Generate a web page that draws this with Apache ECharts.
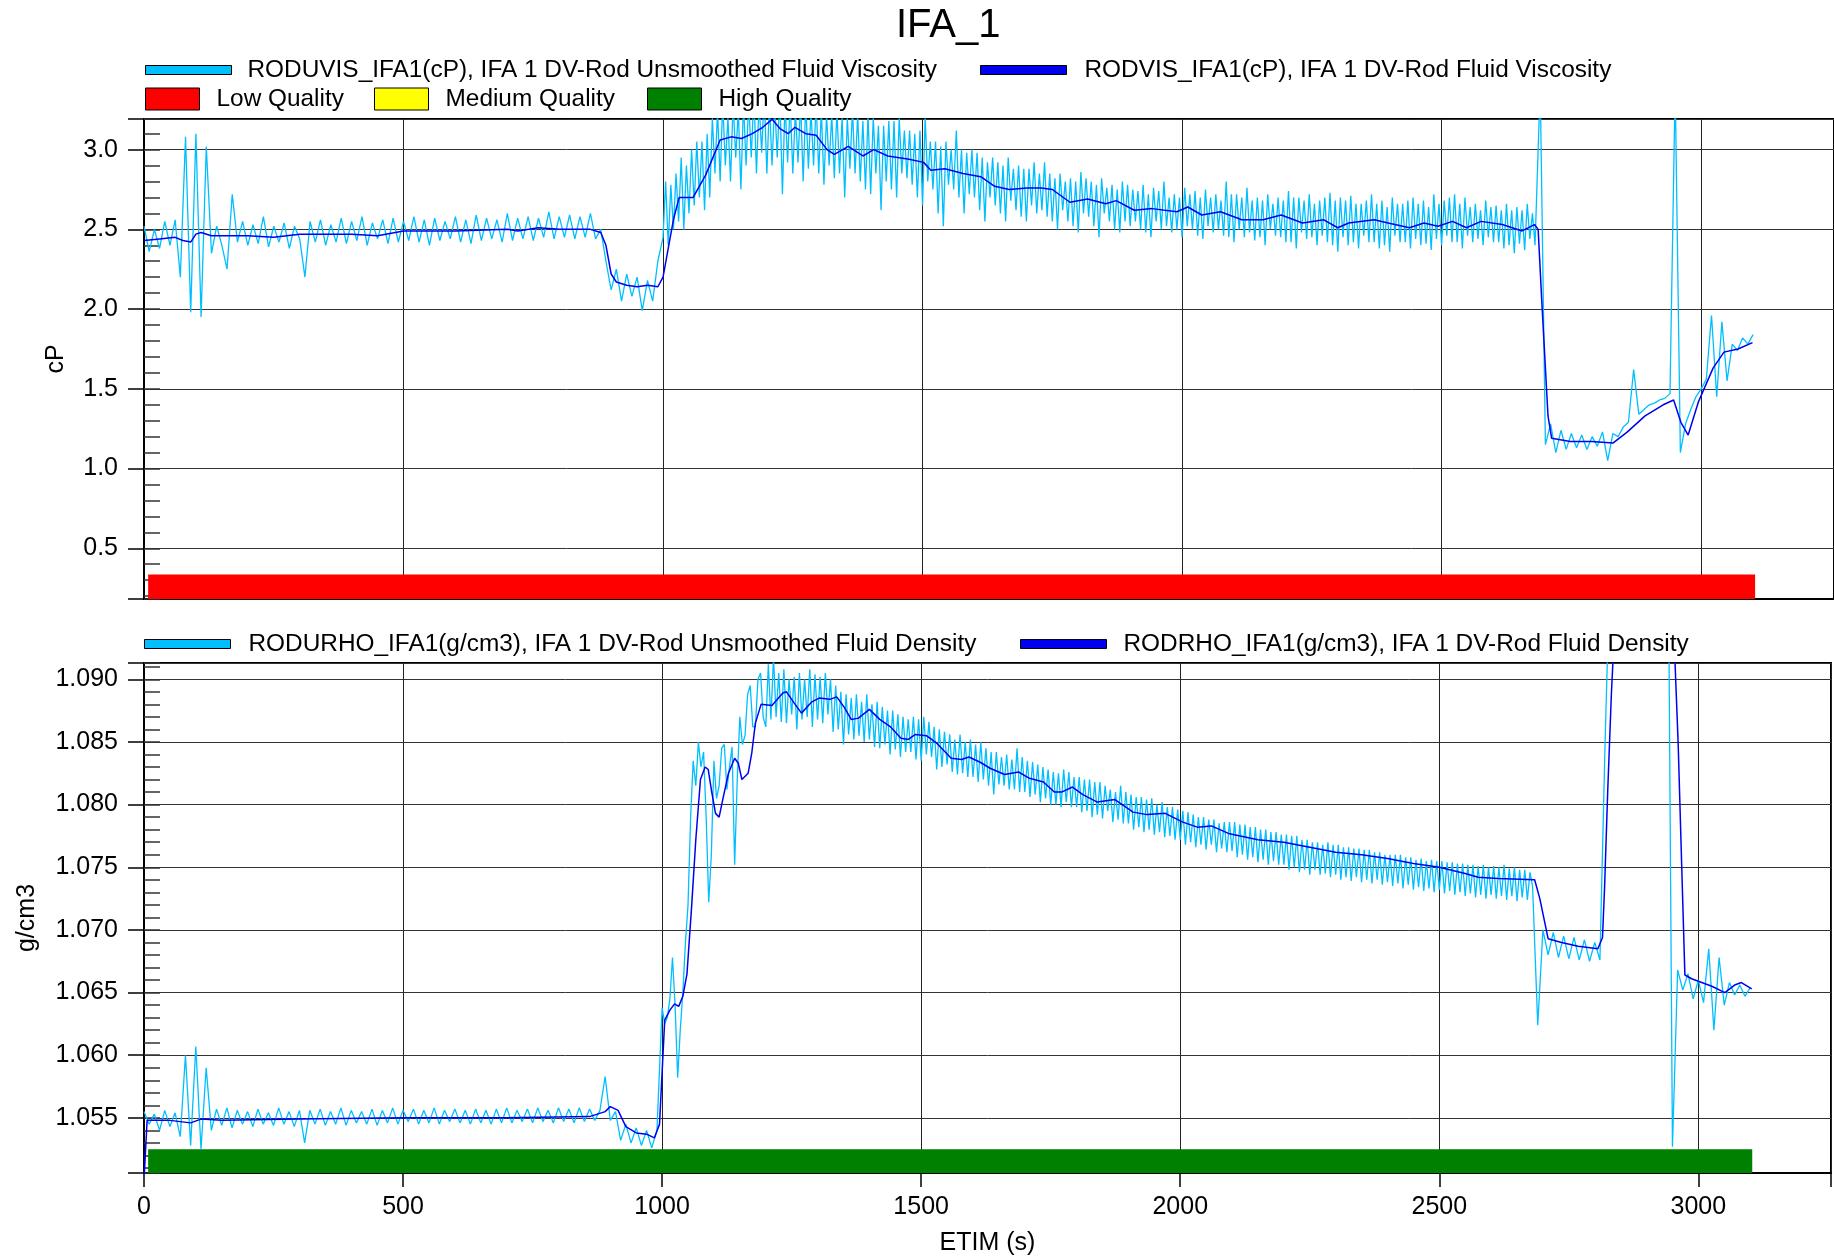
<!DOCTYPE html>
<html><head><meta charset="utf-8">
<script src="https://cdn.jsdelivr.net/npm/echarts@6/dist/echarts.min.js"></script>
<style>html,body{margin:0;padding:0;background:#fff}#c{width:1834px;height:1258px}</style>
</head><body><div id="c"></div>
<script>
// ---------------- DATA ----------------
const chartTitle = 'IFA_1';
const nameRawVisc = 'RODUVIS_IFA1(cP), IFA 1 DV-Rod Unsmoothed Fluid Viscosity';
const nameSmoothVisc = 'RODVIS_IFA1(cP), IFA 1 DV-Rod Fluid Viscosity';
const nameRawDens = 'RODURHO_IFA1(g/cm3), IFA 1 DV-Rod Unsmoothed Fluid Density';
const nameSmoothDens = 'RODRHO_IFA1(g/cm3), IFA 1 DV-Rod Fluid Density';
const qualityNames = ['Low Quality', 'Medium Quality', 'High Quality'];
const xAxisName = 'ETIM (s)';
const viscAxisName = 'cP';
const densAxisName = 'g/cm3';

const xRange = [0, 3256];
const xStep = 500;
const viscRange = [0.182, 3.192];
const viscStep = 0.5, viscMinor = 0.1;
const densRange = [1.0506, 1.0913];
const densStep = 0.005, densMinor = 0.001;

// quality band spans (time from..to, value bottom..top)
const viscQualitySpan = [8, 3104, 0.182, 0.336];   // Low Quality
const densQualitySpan = [8, 3104, 1.0506, 1.0525]; // High Quality

// raw viscosity: t 0..990 every 10 s, t 1000..2680 every 5 s, t 2690..3100 every 10 s
const rawViscEarly = [
2.52,2.36,2.50,2.38,2.55,2.40,2.56,2.20,3.08,1.98,
3.10,1.95,3.02,2.35,2.52,2.40,2.25,2.72,2.42,2.55,
2.40,2.53,2.41,2.58,2.39,2.52,2.42,2.54,2.38,2.52,
2.44,2.20,2.55,2.42,2.56,2.40,2.53,2.42,2.57,2.41,
2.55,2.43,2.58,2.40,2.54,2.44,2.56,2.41,2.57,2.42,
2.55,2.43,2.58,2.42,2.56,2.40,2.57,2.43,2.55,2.44,
2.58,2.42,2.56,2.41,2.59,2.43,2.57,2.44,2.56,2.42,
2.60,2.43,2.57,2.44,2.58,2.43,2.57,2.45,2.61,2.44,
2.58,2.45,2.59,2.44,2.58,2.45,2.60,2.44,2.50,2.30,
2.12,2.25,2.05,2.22,2.08,2.20,1.99,2.18,2.05,2.30
];
const rawViscMid = [
2.45,2.80,2.40,2.78,2.50,2.85,2.55,2.95,2.50,2.90,2.60,3.00,2.65,3.05,2.70,3.05,2.62,3.10,2.70,3.20,
2.85,3.25,2.80,3.30,2.90,3.20,2.80,3.30,2.95,3.25,2.75,3.30,2.90,3.30,2.95,3.35,2.85,3.30,2.98,3.35,
2.85,3.30,2.90,3.30,2.95,3.35,2.72,3.30,2.92,3.30,2.85,3.25,2.92,3.30,2.80,3.30,2.88,3.25,2.90,3.30,
2.85,3.25,2.78,3.22,2.90,3.22,2.82,3.25,2.85,3.20,2.70,3.20,2.88,3.25,2.85,3.22,2.80,3.18,2.75,3.22,
2.72,3.20,2.85,3.15,2.62,3.15,2.80,3.18,2.75,3.18,2.70,3.20,2.85,3.12,2.82,3.12,2.78,3.10,2.70,3.12,
2.65,3.20,2.80,3.05,2.75,3.05,2.60,3.02,2.52,3.05,2.78,3.00,2.75,3.12,2.70,3.00,2.60,2.98,2.72,3.00,
2.70,2.98,2.62,2.95,2.55,2.92,2.70,2.95,2.65,2.92,2.60,2.90,2.55,2.95,2.68,2.88,2.62,2.90,2.58,2.88,
2.55,2.88,2.65,2.92,2.60,2.85,2.62,2.92,2.58,2.85,2.55,2.82,2.50,2.85,2.62,2.80,2.55,2.82,2.52,2.80,
2.48,2.86,2.60,2.82,2.58,2.80,2.52,2.78,2.45,2.82,2.60,2.76,2.55,2.78,2.50,2.75,2.48,2.80,2.55,2.78,
2.52,2.75,2.55,2.74,2.50,2.78,2.48,2.72,2.45,2.76,2.55,2.74,2.50,2.80,2.52,2.70,2.48,2.72,2.50,2.70,
2.45,2.76,2.52,2.72,2.50,2.74,2.46,2.70,2.44,2.75,2.52,2.70,2.48,2.72,2.50,2.68,2.46,2.80,2.45,2.72,
2.42,2.72,2.50,2.70,2.45,2.76,2.48,2.68,2.43,2.70,2.45,2.68,2.40,2.72,2.50,2.66,2.46,2.70,2.45,2.68,
2.42,2.74,2.42,2.70,2.38,2.70,2.48,2.68,2.44,2.72,2.45,2.66,2.40,2.68,2.46,2.70,2.42,2.73,2.40,2.68,
2.36,2.70,2.45,2.68,2.40,2.71,2.42,2.66,2.38,2.66,2.46,2.68,2.42,2.72,2.42,2.66,2.38,2.68,2.40,2.64,
2.36,2.70,2.46,2.66,2.42,2.66,2.42,2.68,2.38,2.70,2.44,2.66,2.40,2.68,2.41,2.64,2.37,2.72,2.44,2.66,
2.40,2.68,2.46,2.70,2.42,2.72,2.42,2.66,2.38,2.70,2.46,2.64,2.42,2.66,2.44,2.62,2.40,2.68,2.45,2.64,
2.42,2.65,2.42,2.62,2.38,2.66,2.40,2.62,2.35,2.64,2.41,2.62,2.37,2.66,2.44,2.60,2.40
];
const rawViscLate = [
3.40,
1.15,1.28,1.10,1.24,1.12,1.22,1.13,1.21,1.12,1.20,
1.14,1.23,1.05,1.22,1.20,1.26,1.29,1.62,1.34,1.37,
1.40,1.41,1.43,1.44,1.47,3.40,1.10,1.28,1.37,1.45,
1.50,1.56,1.96,1.45,1.92,1.55,1.78,1.74,1.82,1.78,
1.84
];

// raw density: same sampling as viscosity
const rawDensEarly = [
1.0555,1.0545,1.0553,1.0540,1.0556,1.0543,1.0554,1.0535,1.0600,1.0528,
1.0607,1.0525,1.0590,1.0540,1.0557,1.0544,1.0558,1.0542,1.0556,1.0545,
1.0555,1.0543,1.0557,1.0545,1.0554,1.0544,1.0558,1.0545,1.0555,1.0543,
1.0556,1.0530,1.0556,1.0545,1.0557,1.0544,1.0555,1.0545,1.0558,1.0544,
1.0556,1.0546,1.0555,1.0545,1.0557,1.0544,1.0556,1.0546,1.0558,1.0545,
1.0556,1.0547,1.0557,1.0545,1.0556,1.0546,1.0558,1.0545,1.0556,1.0547,
1.0557,1.0546,1.0556,1.0545,1.0557,1.0546,1.0556,1.0545,1.0557,1.0546,
1.0558,1.0546,1.0556,1.0547,1.0557,1.0546,1.0558,1.0547,1.0556,1.0546,
1.0558,1.0547,1.0557,1.0546,1.0558,1.0547,1.0557,1.0548,1.0556,1.0583,
1.0548,1.0555,1.0532,1.0545,1.0530,1.0542,1.0528,1.0540,1.0526,1.0540
];
const rawDensMid = [
1.0638,1.0625,1.0630,1.0645,1.0678,1.0640,1.0582,1.0620,1.0650,1.0690,1.0720,1.0790,1.0835,1.0815,1.0850,1.0830,1.0842,1.0790,1.0722,1.0760,
1.0835,1.0805,1.0815,1.0845,1.0848,1.0812,1.0830,1.0846,1.0752,1.0820,1.0870,1.0848,1.0855,1.0888,1.0895,1.0862,1.0862,1.0900,1.0905,1.0870,
1.0862,1.0912,1.0868,1.0918,1.0870,1.0905,1.0866,1.0908,1.0865,1.0900,1.0872,1.0902,1.0860,1.0905,1.0868,1.0900,1.0870,1.0908,1.0862,1.0904,
1.0868,1.0902,1.0865,1.0905,1.0872,1.0900,1.0858,1.0895,1.0860,1.0890,1.0848,1.0888,1.0856,1.0885,1.0852,1.0888,1.0855,1.0882,1.0850,1.0888,
1.0852,1.0880,1.0846,1.0882,1.0845,1.0878,1.0848,1.0875,1.0840,1.0875,1.0844,1.0872,1.0838,1.0870,1.0842,1.0868,1.0842,1.0870,1.0836,1.0868,
1.0835,1.0870,1.0840,1.0866,1.0838,1.0862,1.0828,1.0860,1.0830,1.0858,1.0832,1.0856,1.0826,1.0852,1.0824,1.0856,1.0825,1.0850,1.0822,1.0852,
1.0822,1.0848,1.0818,1.0850,1.0820,1.0845,1.0815,1.0842,1.0808,1.0842,1.0816,1.0838,1.0815,1.0840,1.0812,1.0836,1.0812,1.0845,1.0810,1.0838,
1.0810,1.0835,1.0806,1.0834,1.0808,1.0832,1.0802,1.0830,1.0805,1.0828,1.0800,1.0826,1.0800,1.0825,1.0798,1.0828,1.0802,1.0826,1.0798,1.0822,
1.0798,1.0822,1.0794,1.0820,1.0795,1.0820,1.0790,1.0818,1.0792,1.0818,1.0789,1.0815,1.0795,1.0812,1.0786,1.0810,1.0788,1.0815,1.0785,1.0810,
1.0785,1.0808,1.0780,1.0806,1.0782,1.0806,1.0778,1.0804,1.0780,1.0805,1.0776,1.0800,1.0778,1.0802,1.0774,1.0798,1.0775,1.0798,1.0772,1.0796,
1.0772,1.0795,1.0768,1.0794,1.0770,1.0792,1.0766,1.0790,1.0768,1.0790,1.0764,1.0788,1.0768,1.0788,1.0762,1.0785,1.0765,1.0786,1.0762,1.0786,
1.0763,1.0786,1.0758,1.0784,1.0760,1.0784,1.0756,1.0782,1.0758,1.0782,1.0754,1.0780,1.0756,1.0780,1.0752,1.0778,1.0755,1.0778,1.0752,1.0776,
1.0752,1.0776,1.0748,1.0775,1.0750,1.0775,1.0746,1.0772,1.0748,1.0772,1.0744,1.0770,1.0748,1.0770,1.0744,1.0768,1.0745,1.0770,1.0742,1.0768,
1.0744,1.0768,1.0740,1.0766,1.0742,1.0766,1.0739,1.0765,1.0742,1.0765,1.0738,1.0764,1.0740,1.0764,1.0737,1.0762,1.0740,1.0762,1.0736,1.0760,
1.0738,1.0760,1.0735,1.0760,1.0737,1.0760,1.0733,1.0758,1.0736,1.0758,1.0732,1.0756,1.0734,1.0757,1.0731,1.0755,1.0733,1.0756,1.0730,1.0755,
1.0732,1.0755,1.0729,1.0754,1.0731,1.0754,1.0728,1.0753,1.0730,1.0753,1.0727,1.0752,1.0729,1.0752,1.0726,1.0751,1.0728,1.0752,1.0725,1.0750,
1.0728,1.0751,1.0725,1.0750,1.0727,1.0752,1.0724,1.0749,1.0727,1.0750,1.0723,1.0748,1.0726,1.0748,1.0724,1.0746,1.0735
];
const rawDensLate = [
1.0624,
1.0700,1.0680,1.0698,1.0678,1.0695,1.0677,1.0694,1.0676,1.0692,1.0675,
1.0690,1.0676,1.0850,1.1000,1.1100,1.1150,1.1150,1.1150,1.1150,1.1150,
1.1150,1.1150,1.1150,1.1150,1.1120,1.0527,1.0668,1.0652,1.0665,1.0645,
1.0660,1.0642,1.0685,1.0620,1.0678,1.0640,1.0658,1.0648,1.0656,1.0647,
1.0654
];
const rawSegments = { early: [0, 10], mid: [1000, 5], late: [2690, 10] }; // [start time, step]

// smoothed signals as [time, value]
const smoothVisc = [
[0,2.43],[30,2.44],[60,2.45],[75,2.43],[90,2.42],[100,2.47],[110,2.48],[130,2.46],[200,2.46],[250,2.45],
[300,2.47],[400,2.47],[450,2.46],[500,2.49],[600,2.49],[700,2.50],[720,2.49],[760,2.51],[800,2.50],[860,2.50],
[880,2.48],[890,2.40],[900,2.22],[910,2.17],[930,2.15],[950,2.14],[970,2.15],[990,2.14],[1000,2.20],[1010,2.38],
[1020,2.56],[1031,2.70],[1058,2.70],[1082,2.84],[1110,3.06],[1131,3.08],[1151,3.07],[1172,3.10],[1192,3.14],[1210,3.19],
[1226,3.13],[1241,3.10],[1254,3.14],[1275,3.10],[1295,3.09],[1316,3.00],[1330,2.97],[1357,3.02],[1385,2.96],[1406,3.00],
[1433,2.96],[1474,2.94],[1502,2.92],[1516,2.87],[1543,2.88],[1578,2.85],[1612,2.83],[1639,2.77],[1667,2.75],[1701,2.76],
[1729,2.76],[1750,2.75],[1784,2.67],[1818,2.69],[1853,2.66],[1873,2.68],[1908,2.62],[1942,2.63],[1990,2.61],[2011,2.64],
[2038,2.59],[2074,2.61],[2115,2.56],[2156,2.56],[2191,2.59],[2232,2.54],[2273,2.56],[2300,2.51],[2321,2.54],[2370,2.56],
[2397,2.54],[2438,2.51],[2466,2.54],[2493,2.52],[2521,2.55],[2548,2.51],[2576,2.55],[2617,2.53],[2655,2.49],[2679,2.53],
[2686,2.50],[2693,2.05],[2698,1.75],[2705,1.33],[2712,1.19],[2748,1.17],[2789,1.17],[2830,1.16],[2858,1.23],[2892,1.33],
[2927,1.40],[2947,1.43],[2961,1.29],[2975,1.21],[2995,1.42],[3023,1.63],[3044,1.73],[3071,1.75],[3099,1.79]
];
const smoothDens = [
[0,1.0500],[6,1.0548],[50,1.0548],[90,1.0546],[110,1.0549],[150,1.0548],[300,1.0549],[500,1.0550],[700,1.0550],[860,1.0551],
[890,1.0555],[900,1.0559],[915,1.0556],[930,1.0543],[950,1.0538],[970,1.0537],[985,1.0534],[995,1.0545],[1005,1.0628],[1015,1.0636],
[1024,1.0641],[1032,1.0639],[1040,1.0647],[1048,1.0665],[1057,1.0719],[1065,1.0772],[1074,1.0820],[1083,1.0830],[1089,1.0828],[1095,1.0812],
[1103,1.0793],[1110,1.0790],[1117,1.0804],[1128,1.0825],[1140,1.0837],[1147,1.0833],[1154,1.0820],[1166,1.0825],[1173,1.0841],[1180,1.0865],
[1191,1.0880],[1212,1.0879],[1233,1.0889],[1240,1.0890],[1255,1.0881],[1269,1.0873],[1289,1.0882],[1303,1.0885],[1324,1.0884],[1337,1.0886],
[1351,1.0878],[1365,1.0868],[1379,1.0869],[1400,1.0876],[1420,1.0868],[1441,1.0862],[1461,1.0853],[1475,1.0852],[1489,1.0856],[1510,1.0855],
[1530,1.0849],[1558,1.0837],[1578,1.0836],[1592,1.0838],[1613,1.0834],[1633,1.0829],[1661,1.0824],[1688,1.0826],[1709,1.0821],[1736,1.0818],
[1757,1.0810],[1771,1.0810],[1792,1.0814],[1812,1.0808],[1840,1.0802],[1874,1.0804],[1909,1.0794],[1936,1.0792],[1971,1.0793],[2005,1.0786],
[2033,1.0782],[2060,1.0783],[2093,1.0777],[2150,1.0772],[2200,1.0770],[2250,1.0766],[2300,1.0762],[2350,1.0760],[2400,1.0757],[2450,1.0753],
[2500,1.0750],[2550,1.0745],[2575,1.0742],[2614,1.0741],[2684,1.0740],[2694,1.0725],[2710,1.0693],[2736,1.0690],[2768,1.0687],[2806,1.0685],
[2815,1.0694],[2819,1.0734],[2825,1.0810],[2832,1.0887],[2845,1.1000],[2880,1.1150],[2920,1.1150],[2945,1.1000],[2955,1.0913],[2961,1.0849],
[2968,1.0749],[2974,1.0664],[2987,1.0661],[3026,1.0655],[3051,1.0650],[3070,1.0656],[3083,1.0658],[3103,1.0653]
];

// ---------------- CHART ----------------
const FONT = '"Liberation Sans", Arial, Helvetica, sans-serif';
const LIGHT = '#00BFFF', DARK = '#0000F0';
const seg = (vals, spec) => vals.map((v, i) => [spec[0] + i * spec[1], v]);
const rawVisc = [].concat(seg(rawViscEarly, rawSegments.early), seg(rawViscMid, rawSegments.mid), seg(rawViscLate, rawSegments.late));
const rawDens = [].concat(seg(rawDensEarly, rawSegments.early), seg(rawDensMid, rawSegments.mid), seg(rawDensLate, rawSegments.late));
const onStep = (v, step) => Math.abs(v / step - Math.round(v / step)) < 1e-6;

function legendItem(name, left, top, w, h, pad) {
  return {
    data: [{ name: name, icon: 'rect' }], left: left, top: top,
    itemWidth: w, itemHeight: h, itemGap: 0, padding: 0, selectedMode: false,
    itemStyle: { borderColor: '#000', borderWidth: 1 },
    textStyle: { fontSize: 24.4, fontFamily: FONT, color: '#000', padding: [0, 0, 0, pad] }
  };
}

function xAx(grid, withLabels) {
  return {
    type: 'value', gridIndex: grid, min: xRange[0], max: xRange[1], interval: xStep,
    axisLine: { show: true, lineStyle: { color: '#000', width: 2 } },
    axisTick: { show: withLabels, length: 14, lineStyle: { color: '#000', width: 1.5 } },
    axisLabel: { show: withLabels, margin: 22, fontSize: 25, fontFamily: FONT, color: '#000',
      formatter: v => onStep(v, xStep) ? String(Math.round(v)) : '' },
    splitLine: { show: true, lineStyle: { color: '#222', width: 1 } },
    name: withLabels ? xAxisName : '', nameLocation: 'middle', nameGap: 58,
    nameTextStyle: { fontSize: 25, fontFamily: FONT, color: '#000' }
  };
}
function yMajor(grid, range, step, digits, name, gap) {
  return {
    type: 'value', gridIndex: grid, position: 'left', min: range[0], max: range[1],
    minInterval: step, maxInterval: step,
    axisLine: { show: true, lineStyle: { color: '#000', width: 2 } },
    axisTick: { show: true, inside: false, length: 16, lineStyle: { color: '#000', width: 1.5 } },
    axisLabel: { margin: 26, fontSize: 25, fontFamily: FONT, color: '#000',
      formatter: v => onStep(v, step) ? v.toFixed(digits) : '' },
    splitLine: { show: true, lineStyle: { color: '#333', width: 1 } },
    name: name, nameLocation: 'middle', nameGap: gap,
    nameTextStyle: { fontSize: 25, fontFamily: FONT, color: '#000' }
  };
}
function yMinor(grid, range, step) {
  return {
    type: 'value', gridIndex: grid, position: 'left', offset: 0, min: range[0], max: range[1],
    minInterval: step, maxInterval: step,
    axisLine: { show: false }, axisLabel: { show: false }, splitLine: { show: false },
    axisTick: { show: true, inside: true, length: 16, lineStyle: { color: '#333', width: 1.5 } }
  };
}
function band(span, color) {
  return { silent: true, itemStyle: { color: color, opacity: 1 },
    data: [[{ coord: [span[0], span[2]] }, { coord: [span[1], span[3]] }]] };
}

const chart = echarts.init(document.getElementById('c'), null, { renderer: 'canvas' });
chart.setOption({
  animation: false,
  backgroundColor: '#fff',
  title: { text: chartTitle, left: 896, top: 6, padding: 0,
    textStyle: { fontSize: 40, fontWeight: 'normal', fontFamily: FONT, color: '#000' } },
  legend: [
    legendItem(nameRawVisc, 145, 58, 86, 9, 11),
    legendItem(nameSmoothVisc, 980, 58, 86, 9, 13),
    legendItem(qualityNames[0], 145, 87, 54, 22, 12),
    legendItem(qualityNames[1], 374, 87, 54, 22, 12),
    legendItem(qualityNames[2], 647, 87, 54, 22, 12),
    legendItem(nameRawDens, 144, 632, 86, 9, 13),
    legendItem(nameSmoothDens, 1020, 632, 86, 9, 12)
  ],
  grid: [
    { left: 144, top: 119, right: -2, height: 480, show: true, borderColor: '#000', borderWidth: 2, backgroundColor: '#fff' },
    { left: 144, top: 663, right: -2, height: 510, show: true, borderColor: '#000', borderWidth: 2, backgroundColor: '#fff' }
  ],
  xAxis: [xAx(0, false), xAx(1, true)],
  yAxis: [
    yMajor(0, viscRange, viscStep, 1, viscAxisName, 75),
    yMajor(1, densRange, densStep, 3, densAxisName, 104),
    yMinor(0, viscRange, viscMinor),
    yMinor(1, densRange, densMinor)
  ],
  series: [
    { name: qualityNames[0], type: 'line', xAxisIndex: 0, yAxisIndex: 0, data: [], color: '#FF0000',
      itemStyle: { color: '#FF0000' }, markArea: band(viscQualitySpan, '#FF0000') },
    { name: qualityNames[1], type: 'line', xAxisIndex: 0, yAxisIndex: 0, data: [], color: '#FFFF00',
      itemStyle: { color: '#FFFF00' } },
    { name: qualityNames[2], type: 'line', xAxisIndex: 1, yAxisIndex: 1, data: [], color: '#008000',
      itemStyle: { color: '#008000' }, markArea: band(densQualitySpan, '#008000') },
    { name: nameRawVisc, type: 'line', xAxisIndex: 0, yAxisIndex: 0, data: rawVisc,
      color: LIGHT, itemStyle: { color: LIGHT }, showSymbol: false, symbol: 'none',
      lineStyle: { color: LIGHT, width: 1.3 }, clip: true },
    { name: nameSmoothVisc, type: 'line', xAxisIndex: 0, yAxisIndex: 0, data: smoothVisc,
      color: DARK, itemStyle: { color: DARK }, showSymbol: false, symbol: 'none',
      lineStyle: { color: DARK, width: 1.5 }, clip: true },
    { name: nameRawDens, type: 'line', xAxisIndex: 1, yAxisIndex: 1, data: rawDens,
      color: LIGHT, itemStyle: { color: LIGHT }, showSymbol: false, symbol: 'none',
      lineStyle: { color: LIGHT, width: 1.3 }, clip: true },
    { name: nameSmoothDens, type: 'line', xAxisIndex: 1, yAxisIndex: 1, data: smoothDens,
      color: DARK, itemStyle: { color: DARK }, showSymbol: false, symbol: 'none',
      lineStyle: { color: DARK, width: 1.5 }, clip: true }
  ]
});
</script>
</body></html>
